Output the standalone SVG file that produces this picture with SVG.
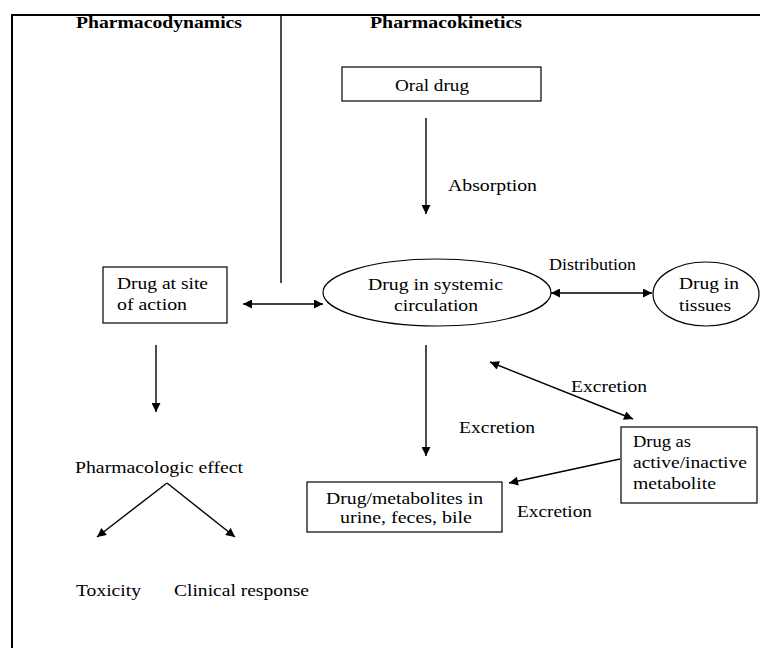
<svg xmlns="http://www.w3.org/2000/svg" width="760" height="648" viewBox="0 0 760 648">
<style>
text{font-family:"Liberation Serif","Times New Roman",serif;font-size:17px;fill:#000}
.b{font-weight:bold}
.box{fill:#fff;stroke:#000;stroke-width:1.2}
.ln{fill:none;stroke:#000;stroke-width:1.4}
.fr{fill:none;stroke:#000;stroke-width:2}
</style>
<defs>
<marker id="ah" viewBox="0 0 10 10" refX="10" refY="5" markerWidth="10" markerHeight="9" markerUnits="userSpaceOnUse" orient="auto-start-reverse">
<path d="M0,0 L10,5 L0,10 z" fill="#000"/>
</marker>
</defs>
<rect width="760" height="648" fill="#fff"/>
<g id="frame">
<path class="fr" d="M12,648 L12,15 L760,15"/>
<line class="ln" x1="281" y1="15" x2="281" y2="283"/>
<text class="b" x="76" y="28" textLength="166" lengthAdjust="spacingAndGlyphs">Pharmacodynamics</text>
<text class="b" x="370" y="28" textLength="152" lengthAdjust="spacingAndGlyphs">Pharmacokinetics</text>
</g>
<g id="connectors">
<line class="ln" x1="426" y1="118" x2="426" y2="214" marker-end="url(#ah)"/>
<line class="ln" x1="243" y1="304" x2="323" y2="304" marker-start="url(#ah)" marker-end="url(#ah)"/>
<line class="ln" x1="551" y1="293" x2="652" y2="293" marker-start="url(#ah)" marker-end="url(#ah)"/>
<line class="ln" x1="426" y1="345" x2="426" y2="456" marker-end="url(#ah)"/>
<line class="ln" x1="490" y1="362" x2="633" y2="419" marker-start="url(#ah)" marker-end="url(#ah)"/>
<line class="ln" x1="620" y1="459" x2="509" y2="483" marker-end="url(#ah)"/>
<line class="ln" x1="156" y1="345" x2="156" y2="412" marker-end="url(#ah)"/>
<line class="ln" x1="167" y1="483" x2="97" y2="537" marker-end="url(#ah)"/>
<line class="ln" x1="167" y1="483" x2="235" y2="537" marker-end="url(#ah)"/>
<text x="448" y="191" textLength="89" lengthAdjust="spacingAndGlyphs">Absorption</text>
<text x="549" y="270" textLength="87" lengthAdjust="spacingAndGlyphs">Distribution</text>
<text x="571" y="392" textLength="76" lengthAdjust="spacingAndGlyphs">Excretion</text>
<text x="459" y="433" textLength="76" lengthAdjust="spacingAndGlyphs">Excretion</text>
<text x="517" y="517" textLength="75" lengthAdjust="spacingAndGlyphs">Excretion</text>
</g>
<g id="oral">
<rect class="box" x="342" y="67" width="199" height="34"/>
<text x="395" y="91" textLength="74" lengthAdjust="spacingAndGlyphs">Oral drug</text>
</g>
<g id="systemic">
<ellipse class="box" cx="437" cy="292.5" rx="114" ry="33.5"/>
<text x="368" y="290" textLength="135" lengthAdjust="spacingAndGlyphs">Drug in systemic</text>
<text x="394" y="311" textLength="84" lengthAdjust="spacingAndGlyphs">circulation</text>
</g>
<g id="site">
<rect class="box" x="103" y="267" width="124" height="56"/>
<text x="117" y="289" textLength="91" lengthAdjust="spacingAndGlyphs">Drug at site</text>
<text x="117" y="310" textLength="70" lengthAdjust="spacingAndGlyphs">of action</text>
</g>
<g id="tissues">
<ellipse class="box" cx="706" cy="294" rx="53" ry="32"/>
<text x="679" y="289" textLength="60" lengthAdjust="spacingAndGlyphs">Drug in</text>
<text x="679" y="311" textLength="52" lengthAdjust="spacingAndGlyphs">tissues</text>
</g>
<g id="metabolite">
<rect class="box" x="621" y="427" width="136" height="76"/>
<text x="633" y="447" textLength="58" lengthAdjust="spacingAndGlyphs">Drug as</text>
<text x="633" y="468" textLength="114" lengthAdjust="spacingAndGlyphs">active/inactive</text>
<text x="633" y="489" textLength="83" lengthAdjust="spacingAndGlyphs">metabolite</text>
</g>
<g id="urine">
<rect class="box" x="307" y="482" width="195" height="50"/>
<text x="326" y="504" textLength="157" lengthAdjust="spacingAndGlyphs">Drug/metabolites in</text>
<text x="340" y="523" textLength="132" lengthAdjust="spacingAndGlyphs">urine, feces, bile</text>
</g>
<g id="effect">
<text x="75" y="473" textLength="168" lengthAdjust="spacingAndGlyphs">Pharmacologic effect</text>
</g>
<g id="toxicity">
<text x="76" y="596" textLength="65" lengthAdjust="spacingAndGlyphs">Toxicity</text>
</g>
<g id="clinical">
<text x="174" y="596" textLength="135" lengthAdjust="spacingAndGlyphs">Clinical response</text>
</g>
</svg>
